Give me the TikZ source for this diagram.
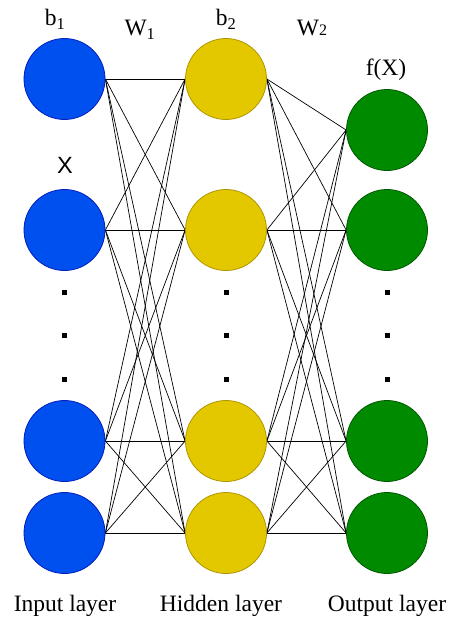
\documentclass[tikz,border=0pt]{standalone}
\usepackage{fontspec}
\setmainfont{Liberation Serif}
\newfontfamily\xsans{Liberation Sans}
\usetikzlibrary{positioning,backgrounds}
\definecolor{inblue}{HTML}{0050EF}
\definecolor{inblueline}{HTML}{001DBC}
\definecolor{hidyellow}{HTML}{E3C800}
\definecolor{hidyellowline}{HTML}{B09500}
\definecolor{outgreen}{HTML}{008A00}
\definecolor{outgreenline}{HTML}{005700}
\newcommand{\lfont}{\fontsize{23.5}{28}\selectfont}
\tikzset{
  neuron/.style={circle,minimum size=81pt,inner sep=0pt,line width=0.8pt},
  inneuron/.style={neuron,fill=inblue,draw=inblueline},
  hidneuron/.style={neuron,fill=hidyellow,draw=hidyellowline},
  outneuron/.style={neuron,fill=outgreen,draw=outgreenline},
  dotmark/.style={rectangle,fill=black,minimum size=5pt,inner sep=0pt},
  wire/.style={draw=black,line width=0.7pt},
  lbl/.style={font=\lfont,inner sep=0pt,anchor=base}
}
\newcommand{\mneuron}[4]{
  \node[#1] (#2) at (#3,#4) {};
}
\newcommand{\mdots}[2]{
  \node[dotmark] (#1a) at (#2,292) {};
  \node[dotmark] (#1b) at (#2,335) {};
  \node[dotmark] (#1c) at (#2,379) {};
}

\begin{document}
\begin{tikzpicture}[x=1pt,y=-1pt]
  \useasboundingbox (0,0) rectangle (448,618);

  % input layer
  \mneuron{inneuron}{in1}{64.5}{79}
  \mneuron{inneuron}{in2}{64.5}{230}
  \mneuron{inneuron}{in3}{64.5}{441}
  \mneuron{inneuron}{in4}{64.5}{533}
  \mdots{indot}{64.5}

  % hidden layer
  \mneuron{hidneuron}{hid1}{226}{79}
  \mneuron{hidneuron}{hid2}{226}{230}
  \mneuron{hidneuron}{hid3}{226}{441}
  \mneuron{hidneuron}{hid4}{226}{533}
  \mdots{hiddot}{226}

  % output layer
  \mneuron{outneuron}{out1}{387}{130}
  \mneuron{outneuron}{out2}{387}{230}
  \mneuron{outneuron}{out3}{387}{441}
  \mneuron{outneuron}{out4}{387}{533}
  \mdots{outdot}{387}

  \begin{scope}[on background layer]
    \foreach \i in {1,...,4}
      \foreach \j in {1,...,4} {
        \path[wire] (in\i.east) -- (hid\j.west);
        \path[wire] (hid\i.east) -- (out\j.west);
      }
  \end{scope}

  % labels
  \node[lbl] (bone) at (55,26) {b\textsubscript{1}};
  \node[lbl] (wone) at (140,36) {W\textsubscript{1}};
  \node[lbl] (btwo) at (226,26) {b\textsubscript{2}};
  \node[lbl] (wtwo) at (312,36) {W{\fontsize{16}{18}\selectfont 2}};
  \node[lbl] (fx) at (386,75) {f(X)};
  \node[font=\lfont\xsans,inner sep=0pt] (xin) at (65,165) {X};

  \node[lbl] (inlbl) at (65,611) {Input layer};
  \node[lbl] (hidlbl) at (221,611) {Hidden layer};
  \node[lbl] (outlbl) at (387,611) {Output layer};
\end{tikzpicture}
\end{document}
